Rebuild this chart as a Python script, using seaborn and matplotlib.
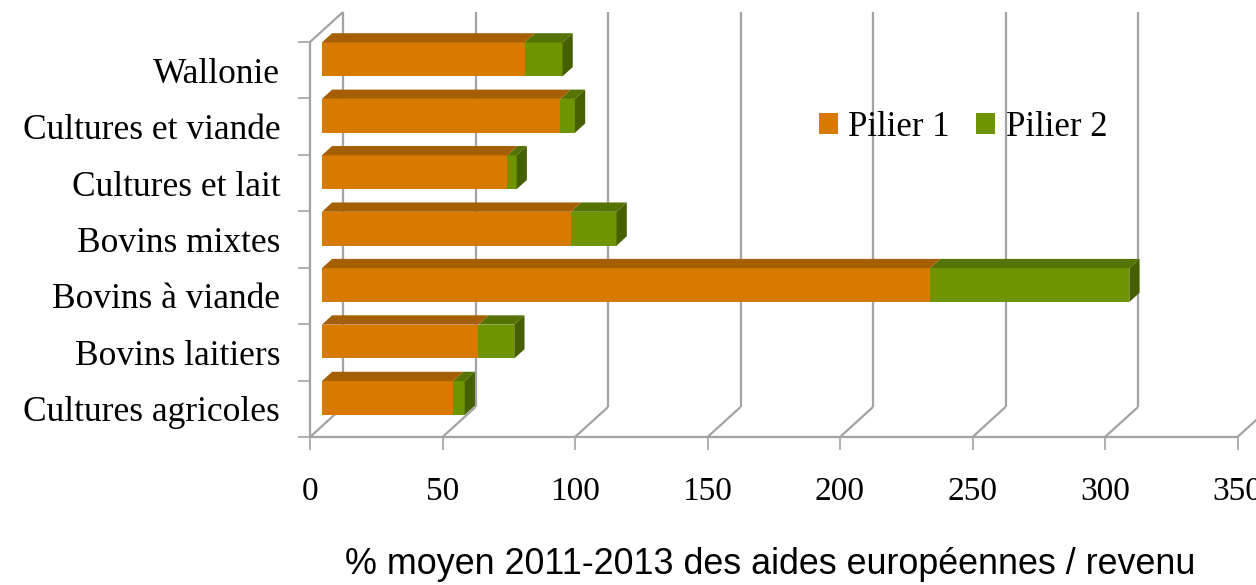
import numpy as np
import pandas as pd
import matplotlib.pyplot as plt
import seaborn as sns
from matplotlib.lines import Line2D
from matplotlib.patches import Patch, Polygon
from matplotlib.transforms import IdentityTransform, offset_copy

# values (% of income)
categories = ["Wallonie", "Cultures et viande", "Cultures et lait", "Bovins mixtes",
              "Bovins à viande", "Bovins laitiers", "Cultures agricoles"]
pilier1 = [76.5, 90.0, 70.0, 94.0, 229.5, 59.0, 49.5]
pilier2 = [14.3, 5.5, 3.5, 17.2, 75.2, 13.6, 4.4]
xticks = [0, 50, 100, 150, 200, 250, 300, 350]

ORANGE, ORANGE_TOP = "#D87A00", "#A65F00"
GREEN, GREEN_TOP, GREEN_SIDE = "#6E9400", "#547300", "#456000"
GRID = "#a3a3a3"

# 3d look: full depth of the box in pixels, bar sits between 36% and 67% of it
DEPTH = np.array([33.0, 30.0])
BAR_FRONT, BAR_BACK = 0.36, 0.67

sns.set_style("white")
plt.rcParams["font.family"] = ["Liberation Serif", "DejaVu Serif"]
plt.rcParams["text.color"] = "black"
plt.rcParams["xtick.labelcolor"] = "black"
plt.rcParams["ytick.labelcolor"] = "black"

df = pd.DataFrame({"cat": categories, "p1": pilier1,
                   "total": np.array(pilier1) + np.array(pilier2)})

W, H = 1256, 585
fig = plt.figure(figsize=(W / 100, H / 100), dpi=100)
ax = fig.add_axes([310 / W, (H - 437) / H, (1237.5 - 310) / W, (437 - 42) / H])

sns.barplot(data=df, x="total", y="cat", color=GREEN, saturation=1, width=0.6,
            orient="h", ax=ax, zorder=2)
sns.barplot(data=df, x="p1", y="cat", color=ORANGE, saturation=1, width=0.6,
            orient="h", ax=ax, zorder=2)
ax.set_xlim(0, 350)
ax.set_ylim(len(categories) - 0.5, -0.5)

ident = IdentityTransform()


def proj(v, c, d):
    p = ax.transData.transform((v, c))
    return p + d * DEPTH


# push the front faces back into the box, then add top and side faces
shift = offset_copy(ax.transData, fig=fig, x=BAR_FRONT * DEPTH[0],
                    y=BAR_FRONT * DEPTH[1], units="dots")
n = len(categories)
bars = list(ax.patches)
for k, bar in enumerate(bars):
    is_green = k < n
    x0, x1 = bar.get_x(), bar.get_x() + bar.get_width()
    ytop = bar.get_y()
    if is_green:
        x0 = pilier1[k]
    bar.set_transform(shift)
    bar.set_edgecolor("none")
    top = [proj(x0, ytop, BAR_FRONT), proj(x1, ytop, BAR_FRONT),
           proj(x1, ytop, BAR_BACK), proj(x0, ytop, BAR_BACK)]
    ax.add_patch(Polygon(top, closed=True, transform=ident, clip_on=False,
                         facecolor=GREEN_TOP if is_green else ORANGE_TOP,
                         edgecolor="none", zorder=2))
    if is_green:
        ybot = bar.get_y() + bar.get_height()
        side = [proj(x1, ytop, BAR_FRONT), proj(x1, ybot, BAR_FRONT),
                proj(x1, ybot, BAR_BACK), proj(x1, ytop, BAR_BACK)]
        ax.add_patch(Polygon(side, closed=True, transform=ident, clip_on=False,
                             facecolor=GREEN_SIDE, edgecolor="none", zorder=2))


def wall_line(a, b):
    ax.add_line(Line2D([a[0], b[0]], [a[1], b[1]], color=GRID, lw=1.6,
                       transform=ident, clip_on=False, zorder=0.5,
                       solid_capstyle="butt"))


bottom, top_c = n - 0.5, -0.5
for t in xticks:
    wall_line(proj(t, bottom, 0), proj(t, bottom, 1))
    wall_line(proj(t, bottom, 1), proj(t, top_c, 1))
wall_line(proj(0, bottom, 0), proj(0, top_c, 0))
wall_line(proj(0, top_c, 0), proj(0, top_c, 1))
wall_line(proj(0, bottom, 0), proj(350, bottom, 0))

for s in ax.spines.values():
    s.set_visible(False)
ax.grid(False)
ax.set_xlabel("")
ax.set_ylabel("")
ax.set_xticks(xticks)
ax.set_xticklabels([str(t) for t in xticks])
ax.set_yticks(range(n), minor=False)
ax.set_yticks(np.arange(-0.5, n, 1.0), minor=True)
ax.tick_params(axis="x", which="major", bottom=True, direction="out", length=9.4,
               width=1.2, color=GRID, labelsize=24, labelcolor="black", pad=19)
ax.tick_params(axis="y", which="major", left=False, labelsize=25.5,
               labelcolor="black", pad=18)
ax.tick_params(axis="y", which="minor", left=True, direction="out", length=8.6,
               width=1.2, color=GRID)

handles = [Patch(facecolor=ORANGE, edgecolor="none"),
           Patch(facecolor=GREEN, edgecolor="none")]
fig.legend(handles, ["Pilier 1", "Pilier 2"], ncol=2, frameon=False, loc="center",
           bbox_to_anchor=(963 / W, 1 - 127 / H), handlelength=0.55, handleheight=0.55,
           handletextpad=0.3, columnspacing=0.75, prop={"size": 25})

fig.text(770 / W, 1 - 565 / H, "% moyen 2011-2013 des aides européennes / revenu",
         ha="center", va="center", fontsize=25.8, color="black",
         family=["Liberation Sans", "DejaVu Sans"])

fig.savefig("out.png", dpi=100)
